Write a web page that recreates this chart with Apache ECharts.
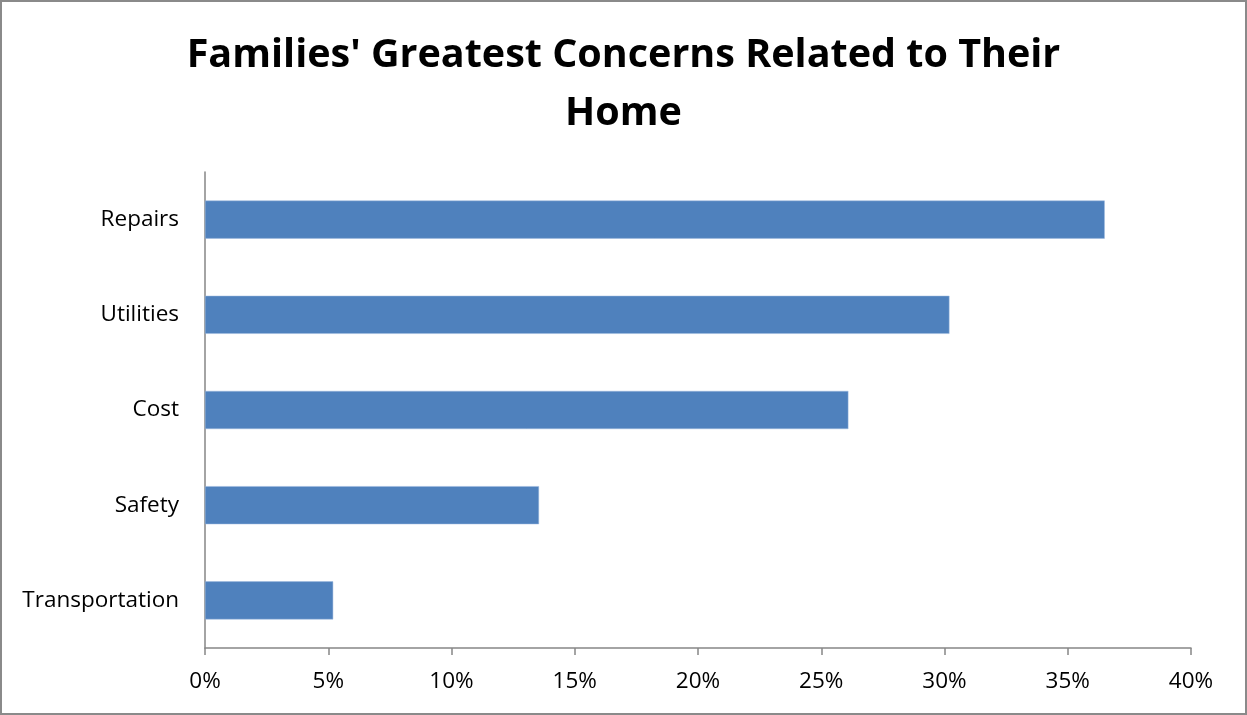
<!DOCTYPE html>
<html>
<head>
<meta charset="utf-8">
<script src="https://cdn.jsdelivr.net/npm/echarts@6/dist/echarts.min.js"></script>
<style>
html,body{margin:0;padding:0;background:#fff;}
#chart{width:1247px;height:715px;}
</style>
</head>
<body>
<div id="chart"></div>
<script>
const categories = ['Repairs', 'Utilities', 'Cost', 'Safety', 'Transportation'];
const values = [36.5, 30.2, 26.1, 13.55, 5.2];
const titleText = "Families' Greatest Concerns Related to Their\nHome";

const chart = echarts.init(document.getElementById('chart'));
chart.setOption({
  backgroundColor: '#ffffff',
  animation: false,
  graphic: [{
    type: 'rect', silent: true,
    shape: {x: 1, y: 1, width: 1245, height: 713},
    style: {fill: 'none', stroke: '#8a8a8a', lineWidth: 2}
  }],
  title: {
    text: titleText,
    left: 'center',
    top: 22,
    textStyle: {
      fontFamily: 'Open Sans', fontWeight: 'bold', fontSize: 39.5,
      lineHeight: 58, color: '#000', align: 'center'
    }
  },
  grid: {left: 205, right: 56, top: 172, bottom: 67, containLabel: false},
  xAxis: {
    type: 'value', min: 0, max: 40, interval: 5,
    axisLine: {show: true, lineStyle: {color: '#868686', width: 1.5}},
    axisTick: {show: true, length: 7, lineStyle: {color: '#868686', width: 1.5}},
    splitLine: {show: false},
    axisLabel: {
      formatter: '{value}%', margin: 22,
      fontFamily: 'Open Sans', fontSize: 22.5, color: '#000'
    }
  },
  yAxis: {
    type: 'category', data: categories, inverse: true,
    axisLine: {show: true, lineStyle: {color: '#868686', width: 1.5}},
    axisTick: {show: false},
    axisLabel: {margin: 26, fontFamily: 'Open Sans', fontSize: 22.5, color: '#000'}
  },
  series: [{
    type: 'bar', data: values, barWidth: '40%',
    itemStyle: {color: '#4F81BD', borderColor: '#9DB9DE', borderWidth: 0.5}
  }]
});
</script>
</body>
</html>
